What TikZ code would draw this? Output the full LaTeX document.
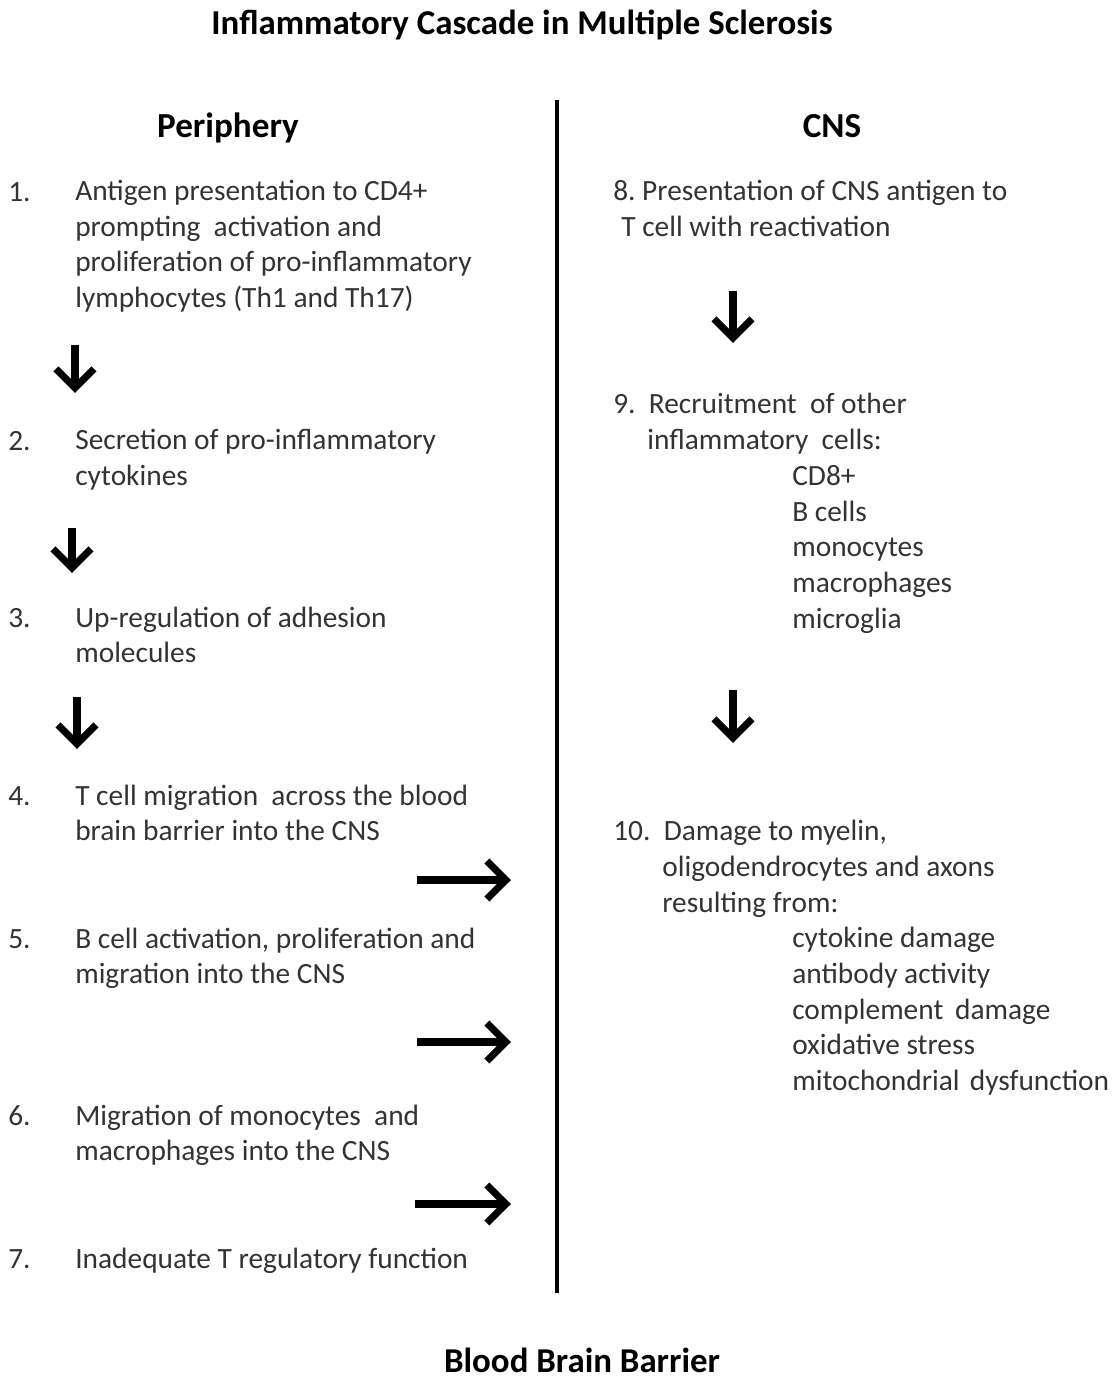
\documentclass[tikz,border=0pt]{standalone}
\usepackage{fontspec}
\setmainfont{Carlito}
\usepackage{tikz}
\definecolor{texte}{HTML}{333333}
\usetikzlibrary{arrows.meta}

\begin{document}
\begin{tikzpicture}[x=0.025cm,y=-0.025cm,
  item/.style={anchor=base west,inner sep=0pt,align=left,text=texte,
    font=\fontsize{20.9}{25.25}\selectfont},
  heading/.style={anchor=base,inner sep=0pt,font=\fontsize{25}{28}\selectfont\bfseries},
  flow/.style={line width=5pt,-{Straight Barb[length=0.48cm,width=0.95cm]}}]
  \useasboundingbox (0,0) rectangle (1111,1380);

  \node[heading,font=\fontsize{24.8}{28}\selectfont\bfseries] at (522,35) (title) {Inflammatory Cascade in Multiple Sclerosis};
  \node[heading] at (228,137) (peri) {Periphery};
  \node[heading] at (832,137) (cns) {CNS};
  \node[heading,font=\fontsize{24.8}{28}\selectfont\bfseries] at (582,1372) (bbb) {Blood Brain Barrier};

  % the barrier
  \coordinate (top) at (557,100);
  \coordinate (bot) at (557,1293);
  \draw[line width=2.8pt] (top) -- (bot);

  % periphery (base = last line)
  \node[item] at (8,201) (n1) {1.};
  \node[item] at (75,307.5) (p1) {Antigen presentation to CD4+\\prompting\ \ activation and\\proliferation of pro-inflammatory\\lymphocytes (Th1 and Th17)};
  \node[item] at (8,450) (n2) {2.};
  \node[item] at (75,485.5) (p2) {Secretion of pro-inflammatory\\cytokines};
  \node[item] at (8,627) (n3) {3.};
  \node[item] at (75,662.5) (p3) {Up-regulation of adhesion\\molecules};
  \node[item] at (8,805) (n4) {4.};
  \node[item] at (75,840.5) (p4) {T cell migration\ \ across the blood\\brain barrier into the CNS};
  \node[item] at (8,948) (n5) {5.};
  \node[item] at (75,983.5) (p5) {B cell activation, proliferation and\\migration into the CNS};
  \node[item] at (8,1125) (n6) {6.};
  \node[item] at (75,1160.5) (p6) {Migration of monocytes\ \ and\\macrophages into the CNS};
  \node[item] at (8,1268) (n7) {7.};
  \node[item] at (75,1268) (p7) {Inadequate T regulatory function};

  \coordinate (d1a) at (75,345);  \coordinate (d1b) at (75,393);
  \coordinate (d2a) at (72,528);  \coordinate (d2b) at (72,573);
  \coordinate (d3a) at (77,697);  \coordinate (d3b) at (77,749);
  \draw[flow] (d1a) -- (d1b);
  \draw[flow] (d2a) -- (d2b);
  \draw[flow] (d3a) -- (d3b);

  \coordinate (r4a) at (417,880);  \coordinate (r4b) at (511,880);
  \coordinate (r5a) at (417,1042); \coordinate (r5b) at (511,1042);
  \coordinate (r6a) at (415,1204); \coordinate (r6b) at (511,1204);
  \draw[flow] (r4a) -- (r4b);
  \draw[flow] (r5a) -- (r5b);
  \draw[flow] (r6a) -- (r6b);

  % CNS
  \node[item] at (613,236.5) (c8) {8.\ Presentation of CNS antigen to\\\hspace*{5.7pt}T cell with reactivation};
  \node[item] at (613,449.5) (c9) {9.\ \ Recruitment\ \ of other\\\hspace*{24.2pt}inflammatory\ \ cells:};
  \node[item] at (792,628) (l9) {CD8+\\B cells\\monocytes\\macrophages\\microglia};
  \node[item] at (613,912) (c10) {10.\ \ Damage to myelin,\\\hspace*{34.9pt}oligodendrocytes and axons\\\hspace*{34.9pt}resulting from:};
  \node[item] at (792,1090) (l10) {cytokine damage\\antibody activity\\complement\hspace{0.4em}damage\\oxidative stress\\mitochondrial\hspace{0.35em}dysfunction};

  \coordinate (d8a) at (733,291);  \coordinate (d8b) at (733,343);
  \coordinate (d9a) at (733,690);  \coordinate (d9b) at (733,743);
  \draw[flow] (d8a) -- (d8b);
  \draw[flow] (d9a) -- (d9b);

\end{tikzpicture}
\end{document}
